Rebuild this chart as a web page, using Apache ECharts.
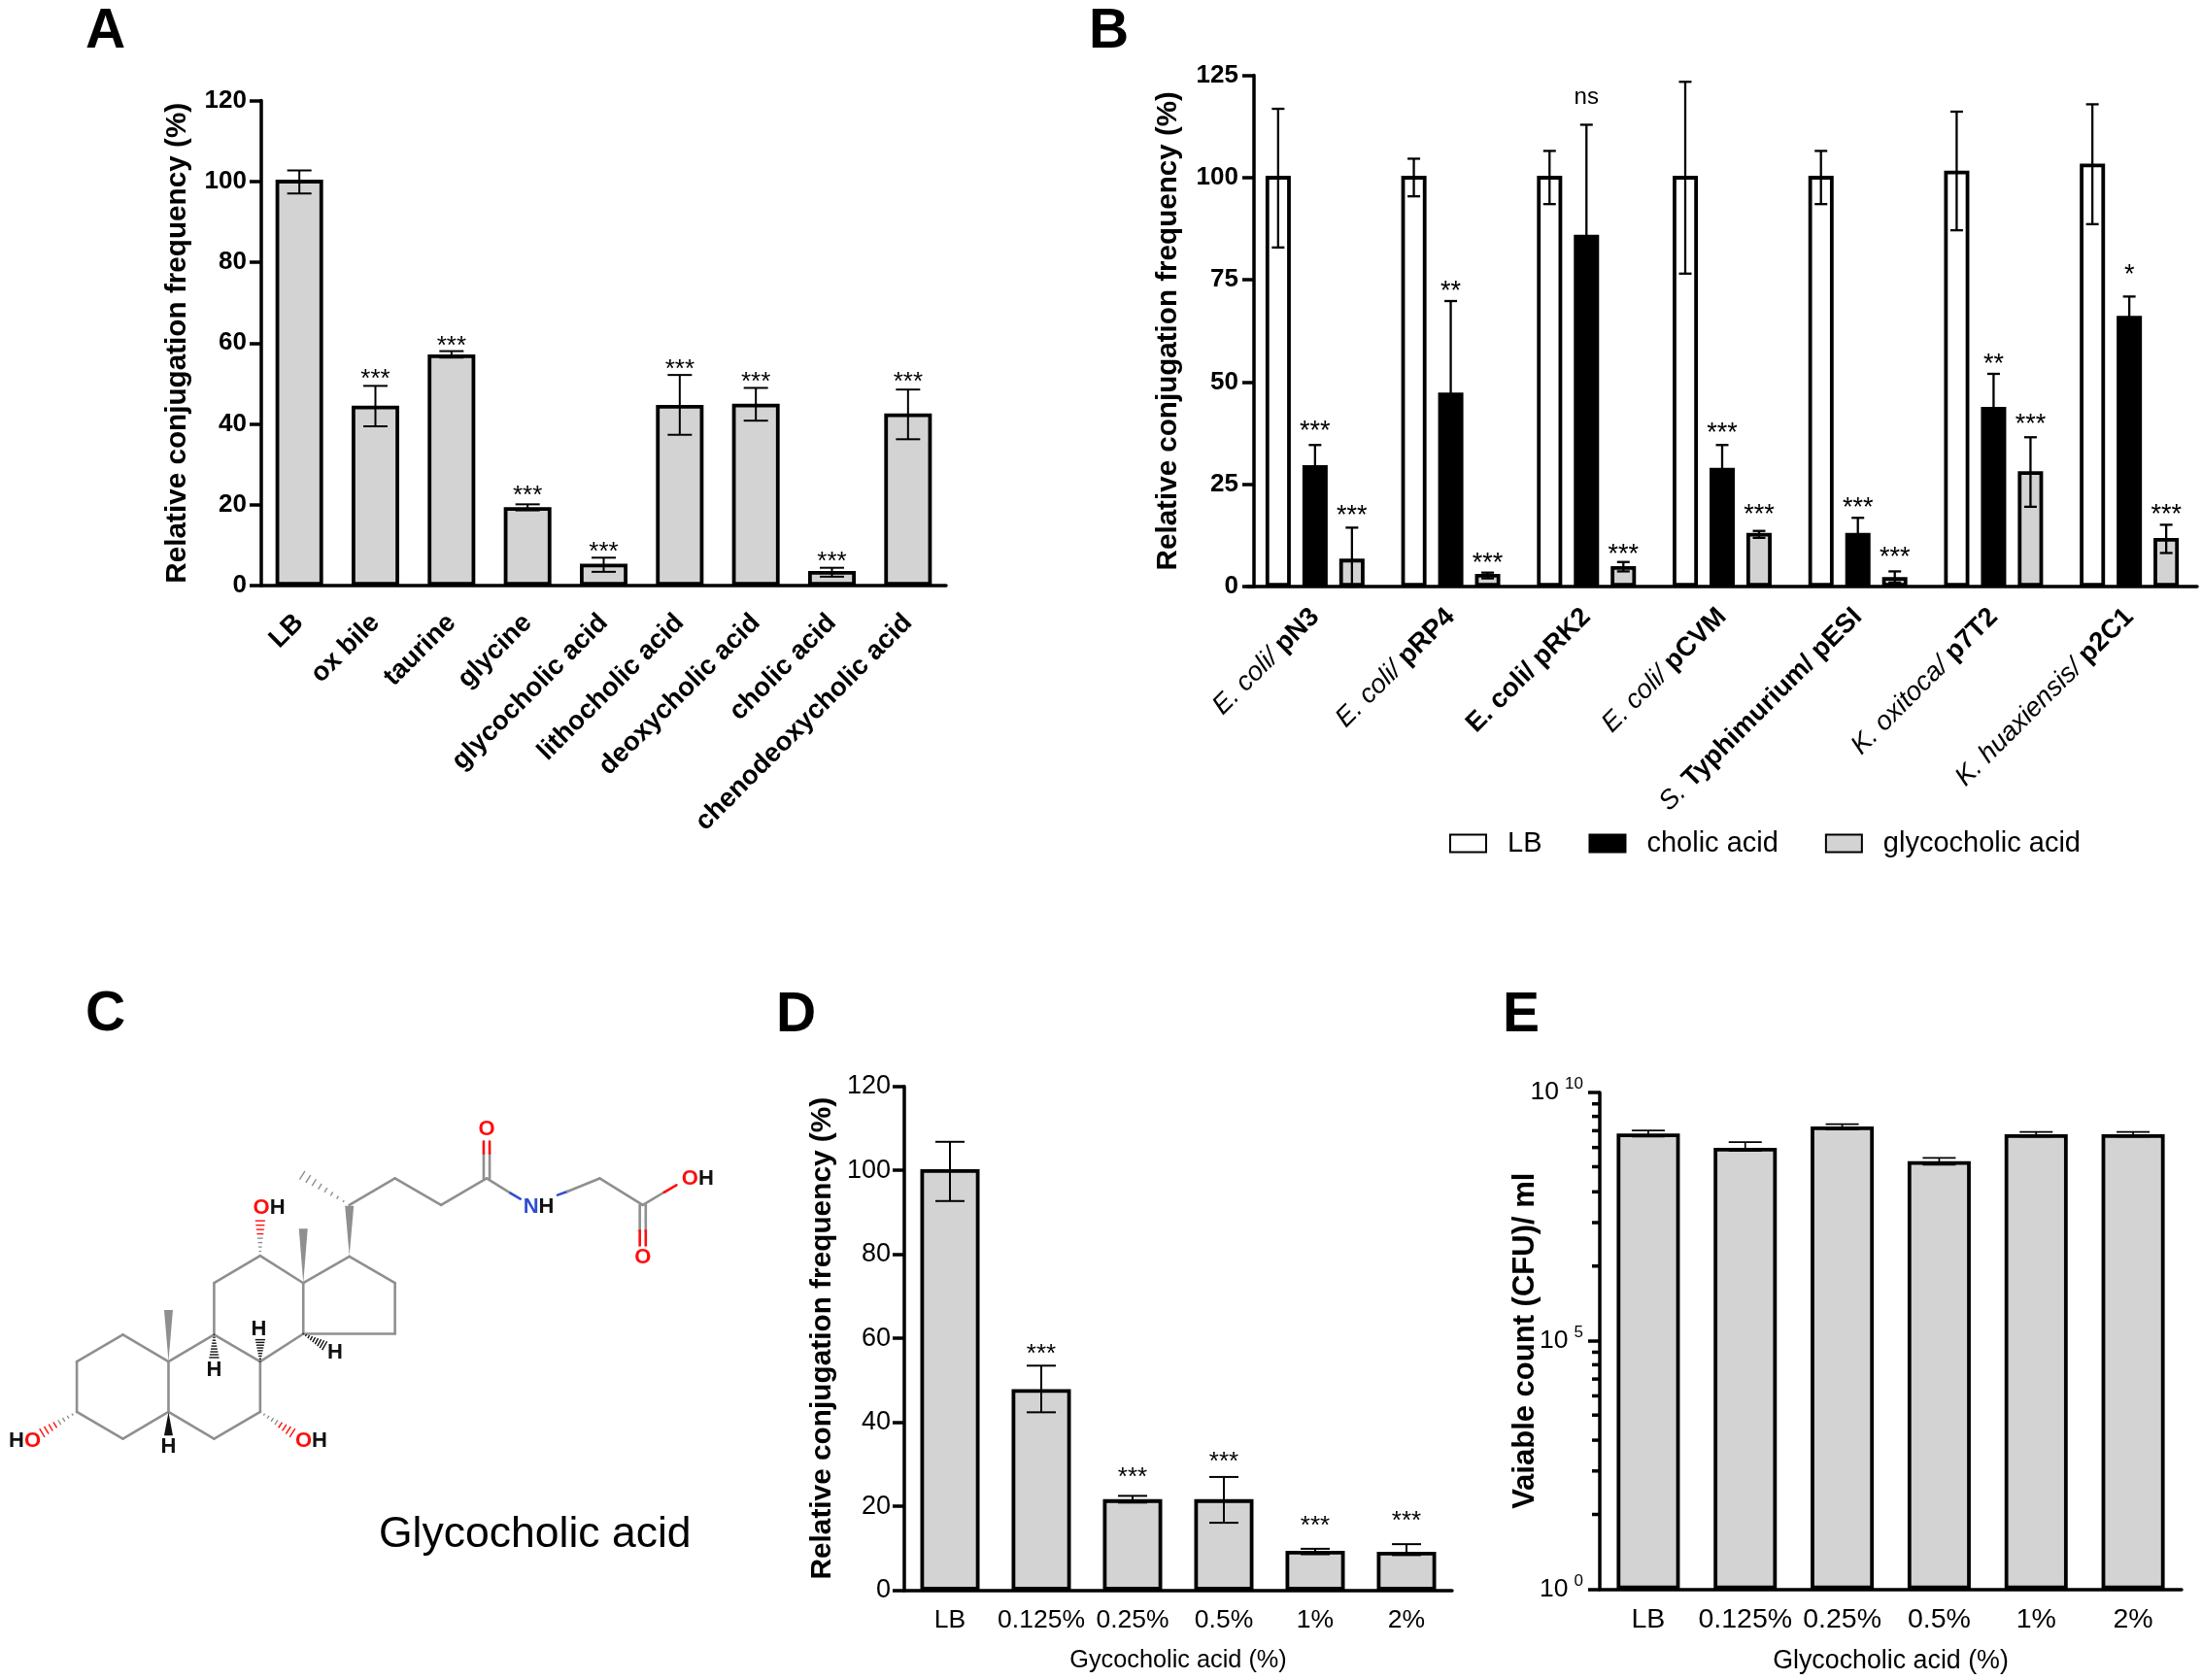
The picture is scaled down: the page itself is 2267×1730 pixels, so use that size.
<!DOCTYPE html>
<html><head><meta charset="utf-8"><style>html,body{margin:0;padding:0;background:#fff}#c{width:2267px;height:1730px}</style>
<script src="https://cdn.jsdelivr.net/npm/echarts@6/dist/echarts.min.js"></script></head><body><div id="c"></div>
<script>
// ---------- Panel A ----------
const catsA = ['LB','ox bile','taurine','glycine','glycocholic acid','lithocholic acid','deoxycholic acid','cholic acid','chenodeoxycholic acid'];
const valA = [100.4,44.5,57.2,19.4,5.4,44.7,45,3.6,42.6];
const hiA = [102.7,49.4,58,20.1,6.9,52.1,48.9,4.4,48.5];
const loA = [97,39.4,56.4,18.6,3.4,37.3,40.8,2.2,36.2];
const starA = ['','***','***','***','***','***','***','***','***'];
const starYA = [0,52.2,60.3,23.4,9.4,54.5,51.4,6.9,51.4];
// ---------- Panel B ----------
const catsB = ['E. coli/ pN3','E. coli/ pRP4','E. coli/ pRK2','E. coli/ pCVM','S. Typhimurium/ pESI','K. oxitoca/ p7T2','K. huaxiensis/ p2C1'];
const italicB = ['E. coli/','E. coli/','','E. coli/','S.','K. oxitoca/','K. huaxiensis/'];
const lbB = [100.4,100.4,100.4,100.4,100.4,101.7,103.4];
const lbHiB = [116.8,104.6,106.5,123.4,106.5,116.1,117.9];
const lbLoB = [82.9,95.4,93.5,76.5,93.5,87.1,88.6];
const chB = [29.7,47.4,86,29,13.1,43.9,66.2];
const chHiB = [34.6,69.8,112.9,34.6,16.8,52,70.9];
const chLoB = [24,24.2,58,22.6,8.6,35,60.7];
const chStarB = ['***','**','ns','***','***','**','*'];
const chStarYB = [39.1,73.3,119.5,38.6,20.3,55.5,77.3];
const glB = [6.8,3.1,5,13.1,2.3,28.2,11.9];
const glHiB = [14.4,3.4,6,13.6,3.7,36.5,15.1];
const glLoB = [0,2,3.7,11.9,1,19.5,8.2];
const glStarB = ['***','***','***','***','***','***','***'];
const glStarYB = [18.4,6.7,9,18.7,8.2,40.6,18.7];
// ---------- Panel D ----------
const catsD = ['LB','0.125%','0.25%','0.5%','1%','2%'];
const valD = [100.3,47.9,21.7,21.7,9.4,9.2];
const hiD = [106.8,53.5,22.5,27,9.9,11];
const loD = [92.7,42.4,20.9,16.1,8.6,8.4];
const starD = ['','***','***','***','***','***'];
const starYD = [0,57.3,28,31.7,16.4,17.5];
// ---------- Panel E ----------
const catsE = ['LB','0.125%','0.25%','0.5%','1%','2%'];
const valE = [1.5e9,7.7e8,2.07e9,4.15e8,1.45e9,1.45e9];
const hiE = [1.72e9,1e9,2.3e9,4.8e8,1.6e9,1.6e9];
const loE = [1.3e9,6.7e8,1.8e9,3.5e8,1.3e9,1.3e9];
const majorE = [1,1e5,1e10];
const minorE = [32,240,1000,3200,7800,17000,33000,59000,3.2e6,2.4e7,1e8,3.2e8,7.8e8,1.7e9,3.3e9,5.9e9];

const FF = '"Liberation Sans", Arial, sans-serif';
const GREY = '#d3d3d3';

function bar(name,x,y,data,color,bw,gap){
  return {type:'bar',name,xAxisIndex:x,yAxisIndex:y,data,barWidth:bw,barGap:gap,z:2,
    itemStyle:{color,borderColor:'#000',borderWidth:3.8},silent:true,animation:false};
}
function err(x,y,cats,hi,lo,stars,starY,offset,cap,size,lw){
  return {type:'custom',xAxisIndex:x,yAxisIndex:y,z:4,silent:true,animation:false,clip:false,
    data:cats.map((c,i)=>[i,hi[i]]),
    renderItem(params,api){
      const i=params.dataIndex, band=api.size([1,0])[0];
      const a=api.coord([i,hi[i]]), b=api.coord([i,lo[i]]);
      const cx=a[0]+offset*band, st={stroke:'#000',lineWidth:lw||2};
      const kids=[
        {type:'line',shape:{x1:cx,y1:a[1],x2:cx,y2:b[1]},style:st},
        {type:'line',shape:{x1:cx-cap/2,y1:a[1],x2:cx+cap/2,y2:a[1]},style:st},
        {type:'line',shape:{x1:cx-cap/2,y1:b[1],x2:cx+cap/2,y2:b[1]},style:st}];
      if(stars&&stars[i]){
        const p=api.coord([i,starY[i]]), isNs=stars[i]==='ns';
        kids.push({type:'text',style:{text:stars[i],x:cx,y:p[1]+(isNs?0:5),align:'center',verticalAlign:'middle',
          fill:'#000',font:(isNs?'24px ':size+'px ')+FF}});
      }
      return {type:'group',children:kids};
    }};
}
function xAxis(g,cats,extra){
  return Object.assign({type:'category',gridIndex:g,data:cats,
    axisLine:{lineStyle:{color:'#000',width:3.5}},
    axisTick:{alignWithLabel:true,length:12,lineStyle:{color:'#000',width:3}}},extra);
}
function yAxis(g,max,step,lab,nameStyle,gap,name,extra){
  return Object.assign({type:'value',gridIndex:g,min:0,max,interval:step,name,nameLocation:'middle',nameGap:gap,
    nameTextStyle:nameStyle,splitLine:{show:false},
    axisLine:{show:true,lineStyle:{color:'#000',width:3.5}},
    axisTick:{show:true,length:12,lineStyle:{color:'#000',width:3.5}},
    axisLabel:lab},extra);
}
const boldLab={fontFamily:FF,fontWeight:'bold',fontSize:26,color:'#000',margin:15};
const regLab={fontFamily:FF,fontSize:27,color:'#000',margin:14};
const title=s=>({fontFamily:FF,fontWeight:'bold',fontSize:s,color:'#000'});
const xRot={fontFamily:FF,fontWeight:'bold',fontSize:27.5,color:'#000',rotate:45,margin:34,interval:0};

const option={
  backgroundColor:'#fff',animation:false,
  title:[['A',83,0],['B',1116,0],['C',83,1012],['D',794,1013],['E',1542,1013]].map(t=>({text:t[0],left:t[1],top:t[2],
    textStyle:{fontFamily:FF,fontWeight:'bold',fontSize:57,color:'#000'}})),
  grid:[
    {left:269,top:103.5,width:705,height:499.5},
    {left:1284,top:77.5,width:978,height:526.5},
    {left:931,top:1118.7,width:564,height:519},
    {left:1647,top:1125,width:599,height:511.5}],
  legend:{left:1487,top:849,itemWidth:37,itemHeight:18,itemGap:48,icon:'rect',data:['LB','cholic acid','glycocholic acid'],
    textStyle:{fontFamily:FF,fontSize:29,color:'#000',padding:[0,0,0,17]},selectedMode:false},
  xAxis:[
    xAxis(0,catsA,{axisLabel:xRot}),
    xAxis(1,catsB,{axisLabel:{fontFamily:FF,fontSize:27.5,color:'#000',rotate:45,margin:27,interval:0,
      formatter:(v,i)=>{const it=italicB[i];const rest=v.slice(it.length).trim();return (it?'{i|'+it+'} ':'')+'{b|'+rest+'}';},
      rich:{i:{fontFamily:FF,fontStyle:'italic',fontSize:27.5,color:'#000'},b:{fontFamily:FF,fontWeight:'bold',fontSize:27.5,color:'#000'}}}}),
    xAxis(2,catsD,{axisLabel:{fontFamily:FF,fontSize:26.5,color:'#000',margin:17,interval:0},name:'Gycocholic acid (%)',nameLocation:'middle',nameGap:60,
      nameTextStyle:{fontFamily:FF,fontSize:25.3,color:'#000'}}),
    xAxis(3,catsE,{axisLabel:{fontFamily:FF,fontSize:28.5,color:'#000',margin:17,interval:0},name:'Glycocholic acid (%)',nameLocation:'middle',nameGap:61,
      nameTextStyle:{fontFamily:FF,fontSize:26.8,color:'#000'}})
  ],
  yAxis:[
    yAxis(0,120,20,boldLab,title(29.7),71,'Relative conjugation frequency (%)'),
    yAxis(1,125,25,Object.assign({},boldLab,{margin:16}),title(29.6),73,'Relative conjugation frequency (%)',{offset:-7}),
    yAxis(2,120,20,regLab,title(29.8),69,'Relative conjugation frequency (%)'),
    {type:'log',logBase:10,gridIndex:3,min:1,max:1e10,name:'Vaiable count (CFU)/ ml',nameLocation:'middle',nameGap:61,nameMoveOverlap:false,
      nameTextStyle:title(31),splitLine:{show:false},position:'left',
      axisLine:{show:true,lineStyle:{color:'#000',width:3.5}},
      axisTick:{show:true,length:12,customValues:majorE,lineStyle:{color:'#000',width:3.5}},
      axisLabel:{fontFamily:FF,fontSize:26.5,color:'#000',margin:17,customValues:majorE,
        formatter:v=>'10{s|'+Math.round(Math.log10(v))+'}',
        rich:{s:{fontFamily:FF,fontSize:17,color:'#000',verticalAlign:'top',lineHeight:34,padding:[0,0,0,6]}}}}
  ],
  series:[
    bar('A',0,0,valA,GREY,49),
    err(0,0,catsA,hiA,loA,starA,starYA,0,25,26),
    bar('LB',1,1,lbB,'#fff',26,'46%'),
    bar('cholic acid',1,1,chB,'#000',26,'46%'),
    bar('glycocholic acid',1,1,glB,GREY,26,'46%'),
    err(1,1,catsB,lbHiB,lbLoB,null,null,-0.272,13,27,2.3),
    err(1,1,catsB,chHiB,chLoB,chStarB,chStarYB,0,13,27,2.3),
    err(1,1,catsB,glHiB,glLoB,glStarB,glStarYB,0.272,13,27,2.3),
    bar('D',2,2,valD,GREY,61),
    err(2,2,catsD,hiD,loD,starD,starYD,0,30,26),
    bar('E',3,3,valE,GREY,65),
    err(3,3,catsE,hiE,loE,null,null,0,34,26,1.7),
    {type:'custom',xAxisIndex:3,yAxisIndex:3,z:5,silent:true,animation:false,clip:false,
      data:minorE.map(v=>[0,v]),
      renderItem(params,api){
        const y=api.coord([0,api.value(1)])[1], x=params.coordSys.x;
        return {type:'line',shape:{x1:x-8,y1:y,x2:x,y2:y},style:{stroke:'#000',lineWidth:3.5}};
      }}
  ],
  graphic:[]
};

// ---------- Panel C: structure sketch, in crop coordinates scaled to the page ----------
const mx=x=>x/1.96, my=y=>1000+y/2.45;
const GR='#8f8f8f', RED='#ff0d0d', BLU='#2f4fd0';
const G=[];
function ln(a,b,c,w){G.push({type:'line',silent:true,shape:{x1:mx(a[0]),y1:my(a[1]),x2:mx(b[0]),y2:my(b[1])},style:{stroke:c||GR,lineWidth:w||2.6,lineCap:'round'}});}
function poly(pts,c){pts.forEach((p,i)=>{if(i)ln(pts[i-1],p,c);});}
function wedge(a,b,c){const ax=mx(a[0]),ay=my(a[1]),bx=mx(b[0]),by=my(b[1]),dx=bx-ax,dy=by-ay,L=Math.hypot(dx,dy),nx=-dy/L*4.5,ny=dx/L*4.5;
  G.push({type:'polygon',silent:true,shape:{points:[[ax,ay],[bx+nx,by+ny],[bx-nx,by-ny]]},style:{fill:c||GR}});}
function hash(a,b,c1,c2){const ax=mx(a[0]),ay=my(a[1]),bx=mx(b[0]),by=my(b[1]),dx=bx-ax,dy=by-ay,L=Math.hypot(dx,dy),n=8;
  for(let k=0;k<=n;k++){const t=k/n,w=0.6+t*4.5,px=ax+dx*t,py=ay+dy*t,nx=-dy/L*w,ny=dx/L*w;
    G.push({type:'line',silent:true,shape:{x1:px+nx,y1:py+ny,x2:px-nx,y2:py-ny},style:{stroke:(c2&&t>0.5)?c2:(c1||GR),lineWidth:1.4}});}}
function lab(x,y,t){G.push({type:'text',silent:true,x:mx(x),y:my(y),style:{text:t,align:'center',verticalAlign:'middle',
  font:'bold 22px '+FF,rich:{r:{fill:RED,font:'bold 22px '+FF},k:{fill:'#111',font:'bold 22px '+FF},b:{fill:BLU,font:'bold 22px '+FF}}}});}
poly([[155,985],[248,917],[340,985],[340,1112],[248,1180],[155,1112],[155,985]]);
poly([[340,985],[432,917],[525,985],[525,1112],[432,1180],[340,1112]]);
poly([[432,917],[432,787],[525,718],[612,787],[612,915],[525,985]]);
poly([[612,787],[705,720],[797,787],[797,915],[612,915]]);
poly([[705,590],[797,523],[890,590],[982,523],[1030,560]]);ln([1030,560],[1050,575],BLU);
ln([1125,565],[1145,556],BLU);poly([[1145,556],[1210,523],[1297,590],[1340,558]]);ln([1340,558],[1365,540],RED);
ln([976,523],[976,460]);ln([988,523],[988,460]);ln([976,460],[976,430],RED);ln([988,460],[988,430],RED);
ln([1291,590],[1291,655]);ln([1303,590],[1303,655]);ln([1291,655],[1291,692],RED);ln([1303,655],[1303,692],RED);
wedge([340,985],[340,855]);wedge([612,787],[612,650]);wedge([705,718],[705,592]);
wedge([340,1112],[340,1172],'#111');
hash([705,590],[610,515]);hash([525,718],[525,630],GR,RED);hash([432,917],[432,975],'#111');hash([525,985],[525,930],'#111');
hash([612,915],[655,945],'#111');hash([155,1112],[85,1165],GR,RED);hash([525,1112],[590,1165],GR,RED);
lab(982,400,'{r|O}');lab(1408,525,'{r|O}{k|H}');lab(1297,722,'{r|O}');lab(1087,595,'{b|N}{k|H}');lab(543,597,'{r|O}{k|H}');
lab(522,903,'{k|H}');lab(432,1007,'{k|H}');lab(676,963,'{k|H}');lab(340,1200,'{k|H}');lab(50,1185,'{k|H}{r|O}');lab(628,1185,'{r|O}{k|H}');
G.push({type:'text',silent:true,x:390,y:1581,style:{text:'Glycocholic acid',align:'left',verticalAlign:'middle',fill:'#000',font:'44.5px '+FF}});
option.graphic=G;

const chart=echarts.init(document.getElementById('c'),null,{renderer:'canvas',width:2267,height:1730});
chart.setOption(option);
</script></body></html>
